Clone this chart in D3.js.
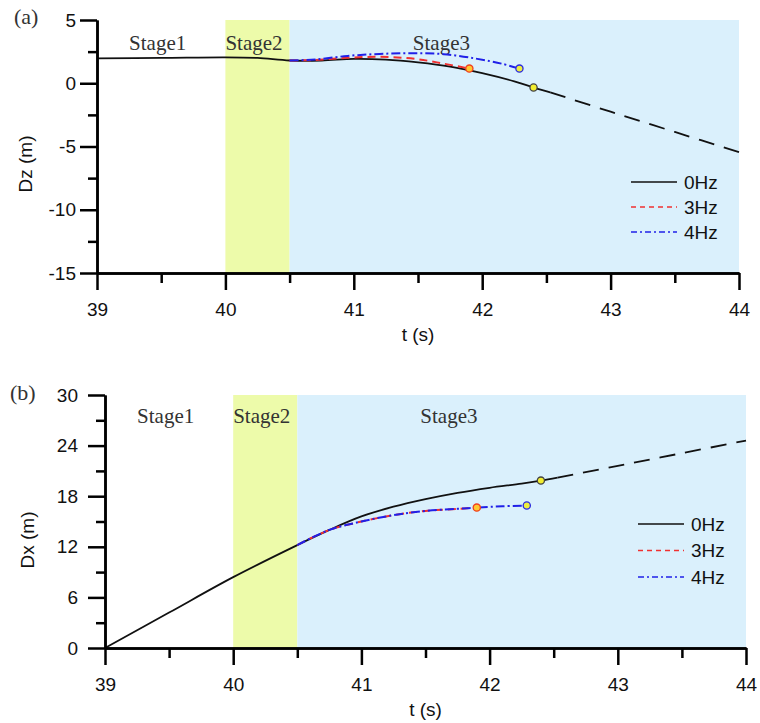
<!DOCTYPE html>
<html>
<head>
<meta charset="utf-8">
<script src="https://cdn.jsdelivr.net/npm/d3@7"></script>
<style>
  body { margin: 0; background: #fff; }
  text { font-family: "Liberation Sans", Arial, sans-serif; }
  .serif { font-family: "Liberation Serif", "Times New Roman", serif; }
</style>
</head>
<body>
<script>
const width = 760, height = 723

// ---- data ----
// panel (a): vertical displacement Dz
const dzT0 = [39, 39.5, 40, 40.25, 40.5, 40.75, 41, 41.25, 41.5, 41.75, 42, 42.25, 42.4, 42.53]
const dz0 = [1.97, 2.0, 2.05, 2.0, 1.8, 1.8, 1.93, 1.87, 1.65, 1.32, 0.8, 0.15, -0.34, -0.72]
const dzT0ext = [42.53, 43, 43.5, 44]
const dz0ext = [-0.72, -2.25, -3.85, -5.45]
const dzT3 = [40.5, 40.7, 40.9, 41.1, 41.3, 41.5, 41.7, 41.9]
const dz3 = [1.8, 1.84, 1.98, 2.08, 2.06, 1.9, 1.55, 1.16]
const dzT4 = [40.5, 40.7, 40.95, 41.2, 41.45, 41.7, 41.95, 42.15, 42.29]
const dz4 = [1.8, 1.88, 2.16, 2.32, 2.37, 2.3, 1.95, 1.55, 1.16]

// panel (b): horizontal displacement Dx
const dxT0 = [39, 39.5, 40, 40.5, 40.75, 41, 41.25, 41.5, 41.75, 42, 42.25, 42.4, 42.53]
const dx0 = [0, 4.2, 8.4, 12.2, 14.0, 15.6, 16.75, 17.65, 18.4, 19.0, 19.5, 19.85, 20.2]
const dxT0ext = [42.53, 43, 43.5, 44]
const dx0ext = [20.2, 21.6, 23.1, 24.6]
const dxT3 = [40.5, 40.75, 41, 41.25, 41.5, 41.75, 41.9]
const dx3 = [12.2, 14.0, 15.0, 15.75, 16.25, 16.5, 16.65]
const dxT4 = [40.5, 40.75, 41, 41.25, 41.5, 41.75, 41.9, 42.1, 42.29]
const dx4 = [12.2, 14.0, 15.0, 15.75, 16.25, 16.5, 16.65, 16.8, 16.9]

const stages = [
    { name: "Stage1", from: 39, to: 40, labelAt: 39.25, fill: "none" },
    { name: "Stage2", from: 40, to: 40.5, labelAt: 40.0, fill: "#edfbaa" },
    { name: "Stage3", from: 40.5, to: 44, labelAt: 41.46, fill: "#daf0fc" }
]
const legendNames = ["0Hz", "3Hz", "4Hz"]
const xTicks = [39, 40, 41, 42, 43, 44]
const xMinor = [39.5, 40.5, 41.5, 42.5, 43.5]

const zip = (ts, vs) => ts.map((t, i) => [t, vs[i]])

let svg = d3.select("body")
    .append("svg")
    .attr("width", width)
    .attr("height", height)

const drawPanel = (p) => {
    const x = d3.scaleLinear().domain([39, 44]).range(p.xr)
    const y = d3.scaleLinear().domain(p.yDomain).range(p.yr)
    let g = svg.append("g")

    // stage shading
    g.selectAll("rect.stage")
        .data(stages.filter(s => s.fill != "none"))
        .join("rect")
        .attr("x", d => x(d.from))
        .attr("width", d => x(d.to) - x(d.from))
        .attr("y", p.yr[1])
        .attr("height", p.yr[0] - p.yr[1])
        .attr("fill", d => d.fill)

    g.selectAll("text.stage")
        .data(stages)
        .join("text")
        .attr("class", "serif")
        .attr("x", d => x(d.labelAt))
        .attr("y", p.stageY)
        .attr("font-size", 21)
        .attr("fill", "#333")
        .text(d => d.name)

    const line = d3.line()
        .x(d => x(d[0]))
        .y(d => y(d[1]))
        .curve(d3.curveCatmullRom)

    const series = [
        { pts: p.s0ext, color: "#111", dash: "16,10", w: 1.8 },
        { pts: p.s0, color: "#111", dash: null, w: 1.8 },
        { pts: p.s3, color: "#f03030", dash: "8,5", w: 2 },
        { pts: p.s4, color: "#2020e8", dash: "9,3,2,3", w: 2 }
    ]
    g.selectAll("path.series")
        .data(series)
        .join("path")
        .attr("d", d => line(d.pts))
        .attr("fill", "none")
        .attr("stroke", d => d.color)
        .attr("stroke-width", d => d.w)
        .attr("stroke-dasharray", d => d.dash)

    // end-point markers
    const marks = [
        { pt: p.s0[p.s0.length - 2], fill: "#f2ee30", stroke: "#444" },
        { pt: p.s3[p.s3.length - 1], fill: "#ffc830", stroke: "#f04020" },
        { pt: p.s4[p.s4.length - 1], fill: "#eeee40", stroke: "#2a2ae0" }
    ]
    g.selectAll("circle")
        .data(marks)
        .join("circle")
        .attr("cx", d => x(d.pt[0]))
        .attr("cy", d => y(d.pt[1]))
        .attr("r", 3.6)
        .attr("fill", d => d.fill)
        .attr("stroke", d => d.stroke)
        .attr("stroke-width", 1.3)

    // axes
    const styleAxis = (sel) => {
        sel.selectAll("path.domain").attr("stroke", "#000").attr("stroke-width", 2.5)
        sel.selectAll(".tick line").attr("stroke", "#000").attr("stroke-width", 2.5)
        sel.selectAll("text").attr("font-size", 19).attr("fill", "#111")
            .attr("font-family", "'Liberation Sans', Arial, sans-serif")
    }
    const plain = d => String(d)   // keep ASCII hyphen for negatives
    g.append("g")
        .attr("transform", `translate(0,${p.yr[0]})`)
        .call(d3.axisBottom(x).tickValues(xMinor).tickSize(10).tickFormat("").tickSizeOuter(0))
        .call(styleAxis)
    g.append("g")
        .attr("transform", `translate(0,${p.yr[0]})`)
        .call(d3.axisBottom(x).tickValues(xTicks).tickSize(17).tickPadding(13).tickSizeOuter(0).tickFormat(plain))
        .call(styleAxis)
    g.append("g")
        .attr("transform", `translate(${p.xr[0]},0)`)
        .call(d3.axisLeft(y).tickValues(p.yMinor).tickSize(9).tickFormat("").tickSizeOuter(0))
        .call(styleAxis)
    g.append("g")
        .attr("transform", `translate(${p.xr[0]},0)`)
        .call(d3.axisLeft(y).tickValues(p.yTicks).tickSize(17).tickPadding(p.yPad).tickSizeOuter(0).tickFormat(plain))
        .call(styleAxis)

    g.append("text")
        .attr("x", (p.xr[0] + p.xr[1]) / 2)
        .attr("y", p.yr[0] + 68)
        .attr("text-anchor", "middle")
        .attr("font-size", 19)
        .attr("fill", "#111")
        .text("t (s)")

    g.append("text")
        .attr("transform", `translate(${p.yTitle[0]},${p.yTitle[1]}) rotate(-90)`)
        .attr("text-anchor", "middle")
        .attr("font-size", 19)
        .attr("fill", "#111")
        .text(p.yLabel)

    g.append("text")
        .attr("class", "serif")
        .attr("x", p.tag[0])
        .attr("y", p.tag[1])
        .attr("font-size", 22)
        .attr("fill", "#333")
        .text(p.tagText)

    // legend
    const leg = g.append("g")
    legendNames.forEach((name, i) => {
        const s = series[i + 1]
        const yy = p.legend[1] + i * p.legend[2]
        leg.append("line")
            .attr("x1", p.legend[0]).attr("x2", p.legend[0] + 46)
            .attr("y1", yy).attr("y2", yy)
            .attr("stroke", s.color)
            .attr("stroke-width", 1.6)
            .attr("stroke-dasharray", i == 1 ? "5,4" : i == 2 ? "6,3,2,3" : null)
        leg.append("text")
            .attr("x", p.legend[0] + 53)
            .attr("y", yy)
            .attr("dy", "0.35em")
            .attr("font-size", 19)
            .attr("fill", "#111")
            .text(name)
    })
}

drawPanel({
    xr: [97, 739], yr: [273, 20], yDomain: [-15, 5],
    yTicks: [-15, -10, -5, 0, 5], yMinor: [-12.5, -7.5, -2.5, 2.5], yPad: 4,
    s0: zip(dzT0, dz0), s0ext: zip(dzT0ext, dz0ext),
    s3: zip(dzT3, dz3), s4: zip(dzT4, dz4),
    stageY: 50, yLabel: "Dz (m)", yTitle: [32, 164],
    tag: [14, 24], tagText: "(a)", legend: [631, 182, 25]
})

drawPanel({
    xr: [105, 746], yr: [648, 395], yDomain: [0, 30],
    yTicks: [0, 6, 12, 18, 24, 30], yMinor: [3, 9, 15, 21, 27], yPad: 10,
    s0: zip(dxT0, dx0), s0ext: zip(dxT0ext, dx0ext),
    s3: zip(dxT3, dx3), s4: zip(dxT4, dx4),
    stageY: 423, yLabel: "Dx (m)", yTitle: [34, 540],
    tag: [10, 400], tagText: "(b)", legend: [638, 524, 26.5]
})
</script>
</body>
</html>
